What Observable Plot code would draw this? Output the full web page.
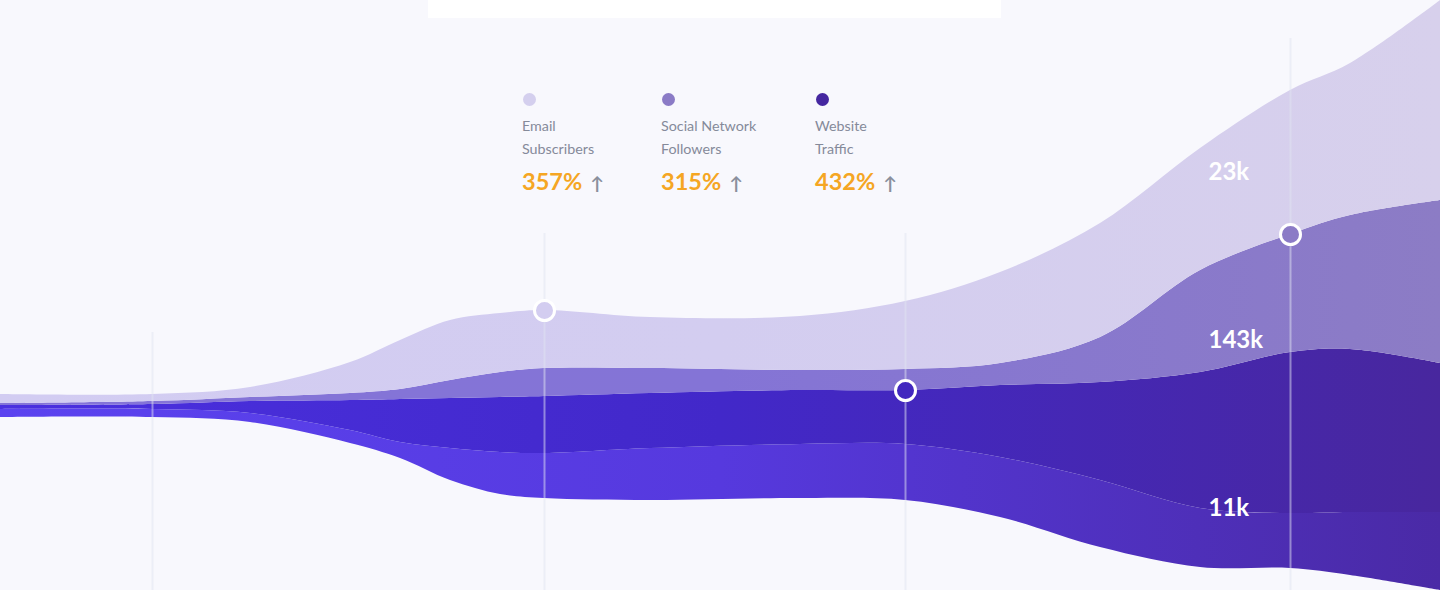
<!DOCTYPE html>
<html>
<head>
<meta charset="utf-8">
<script src="https://cdn.jsdelivr.net/npm/d3@7"></script>
<script src="https://cdn.jsdelivr.net/npm/@observablehq/plot@0.6"></script>
<style>
  html, body { margin: 0; padding: 0; background: #f8f8fd; }
  #wrap { position: relative; width: 1440px; height: 590px; overflow: hidden; font-family: Lato, "Open Sans", sans-serif; }
  #card { position: absolute; left: 428px; top: 0; width: 573px; height: 18px; background: #ffffff; }
  .leg { position: absolute; top: 93px; }
  .leg .dot { width: 13px; height: 13px; border-radius: 50%; margin-left: 1px; }
  .leg .name { margin-top: 8px; font-size: 14.3px; line-height: 23px; color: #858a9a; }
  .leg .pct { margin-top: 6px; font-size: 23.5px; font-weight: 700; color: #f5a623; line-height: 30px; }
  .leg .arr { font-size: 18px; font-weight: 700; color: #8a8f9c; margin-left: 8px; }
  svg { position: absolute; left: 0; top: 0; }
</style>
</head>
<body>
<div id="wrap"><div id="card"></div></div>
<script>
// ---- data ----
const days = [0, 152, 250, 350, 400, 450, 500, 544, 650, 800, 905, 1000, 1100, 1200, 1290, 1350, 1440];
// lower edge of the stream
const baseline = [173, 173, 168, 147, 132, 110, 96, 92, 90, 92, 90, 73, 43, 23, 22, 15, 0];
// layer thicknesses, bottom to top
const directTraffic    = [8, 8, 9, 13, 16, 32, 42, 45, 52, 54, 56, 60, 67, 59, 55, 63, 78];
const websiteTraffic   = [4, 5, 12, 30, 43, 50, 55, 57, 55, 54, 54, 72, 98, 136, 161, 163, 149];
const socialFollowers  = [2, 3, 4, 7, 10, 18, 25, 28, 25, 20, 21, 22, 45, 102, 118, 134, 163];
const emailSubscribers = [9, 7, 10, 31, 49, 60, 59, 58, 51, 54, 68, 91, 114, 122, 144, 152, 200];

const layerNames = ["Direct Traffic", "Website Traffic", "Social Network Followers", "Email Subscribers"];
const layerGradients = [
  ["#5b43f0", "#5639de", "#4a2aa6"],
  ["#4a30e0", "#4228c9", "#48279e"],
  ["#8474d8", "#8474d6", "#8c7cc5"],
  ["#d2ccf2", "#d3cdf0", "#d7d0ec"]
];

const legendNames = [["Email", "Subscribers"], ["Social Network", "Followers"], ["Website", "Traffic"]];
const legendColors = ["#d4cfee", "#8b7bc6", "#4527a0"];
const legendGrowth = ["357%", "315%", "432%"];
const legendLeft = [522, 661, 815];

const guideDays = [152, 544, 905, 1290];
const guideTops = [258, 357, 357, 552];

// markers: day, edge index (0 = baseline ... 4 = top), fill
const markerDays = [544, 905, 1290];
const markerEdges = [4, 2, 3];
const markerFills = ["#d3cdf0", "#4228bf", "#8b7bc6"];

const totals = ["23k", "143k", "11k"];
const totalDay = 1208;
const totalLevels = [418, 250, 82];

// ---- build stacked table ----
const layers = [directTraffic, websiteTraffic, socialFollowers, emailSubscribers];
const edges = [baseline.slice()];
layers.forEach((arr, k) => edges.push(arr.map((v, i) => edges[k][i] + v)));
const rows = [];
layers.forEach((arr, k) => days.forEach((d, i) => rows.push({layer: k, name: layerNames[k], day: d, y1: edges[k][i], y2: edges[k + 1][i]})));
const markers = markerDays.map((d, j) => ({day: d, value: edges[markerEdges[j]][days.indexOf(d)], fill: markerFills[j]}));
const guides = guideDays.map((d, j) => ({day: d, top: guideTops[j]}));
const labels = totals.map((t, j) => ({text: t, day: totalDay, value: totalLevels[j]}));

const marks = [];
layers.forEach((_, k) => {
  marks.push(Plot.areaY(rows.filter(r => r.layer === k), {x: "day", y1: "y1", y2: "y2", fill: `url(#grad${k})`, curve: "catmull-rom"}));
});
marks.push(Plot.ruleX(guides, {x: "day", y1: 0, y2: "top", stroke: "#dfe4f2", strokeOpacity: 0.5, strokeWidth: 2}));
marks.push(Plot.dot(markers, {x: "day", y: "value", r: 10, fill: "fill", stroke: "#ffffff", strokeWidth: 3}));
marks.push(Plot.text(labels, {x: "day", y: "value", text: "text", textAnchor: "start", fill: "#ffffff", fontSize: 24, fontWeight: 700, fontFamily: "Lato"}));

const svg = Plot.plot({
  width: 1440, height: 590, margin: 0,
  x: {domain: [0, 1440], axis: null},
  y: {domain: [0, 590], axis: null},
  style: {background: "transparent", overflow: "hidden"},
  marks
});

// gradients
const ns = "http://www.w3.org/2000/svg";
const defs = document.createElementNS(ns, "defs");
layerGradients.forEach((stops, k) => {
  const g = document.createElementNS(ns, "linearGradient");
  g.setAttribute("id", `grad${k}`);
  g.setAttribute("gradientUnits", "userSpaceOnUse");
  g.setAttribute("x1", 0); g.setAttribute("x2", 1440); g.setAttribute("y1", 0); g.setAttribute("y2", 0);
  stops.forEach((c, i) => {
    const s = document.createElementNS(ns, "stop");
    s.setAttribute("offset", i / (stops.length - 1));
    s.setAttribute("stop-color", c);
    g.appendChild(s);
  });
  defs.appendChild(g);
});
svg.insertBefore(defs, svg.firstChild);

const wrap = document.getElementById("wrap");
wrap.insertBefore(svg, wrap.firstChild);

// legend
legendNames.forEach((lines, j) => {
  const div = document.createElement("div");
  div.className = "leg";
  div.style.left = legendLeft[j] + "px";
  div.innerHTML = `<div class="dot" style="background:${legendColors[j]}"></div>` +
    `<div class="name">${lines.join("<br>")}</div>` +
    `<div class="pct">${legendGrowth[j]}<span class="arr">↑</span></div>`;
  wrap.appendChild(div);
});
</script>
</body>
</html>
